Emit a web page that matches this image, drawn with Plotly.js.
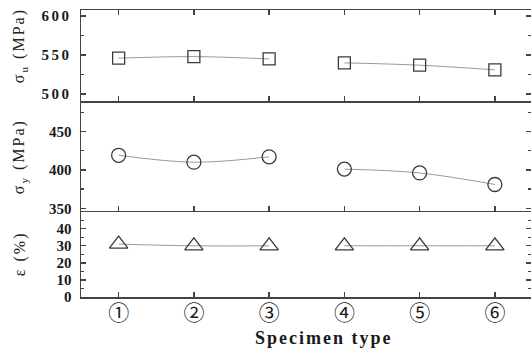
<!DOCTYPE html>
<html>
<head>
<meta charset="utf-8">
<script src="https://cdn.plot.ly/plotly-3.0.1.min.js"></script>
<style>
  html, body { margin: 0; padding: 0; background: #fff; overflow: hidden; }
  .ytick text { letter-spacing: 2.5px; font-weight: bold !important; }
  .annotation-text { letter-spacing: 2px; }
</style>
</head>
<body>
<div id="chart" style="width:531px;height:349px;"></div>
<script>
// ---- data ----
const categories = [1, 2, 3, 4, 5, 6];
const categoryLabels = ['①', '②', '③', '④', '⑤', '⑥'];
const sigmaU = [546, 548, 545, 540, 537, 531];      // ultimate strength, MPa
const sigmaY = [419, 410, 417, 401, 396, 381];      // yield strength, MPa
const elongation = [31, 30, 30, 30, 30, 30];        // elongation, %
const groupA = [0, 1, 2];   // specimens 1-3 joined by a curve
const groupB = [3, 4, 5];   // specimens 4-6 joined by a curve

const pick = (arr, idx) => idx.map(i => arr[i]);

const lineColor = '#9a9a9a';
const markColor = '#3a3a3a';
const axisColor = '#444';
const serif = 'Liberation Serif, Times New Roman, serif';

function panel(values, symbol, size, xa, ya) {
  const traces = [];
  [groupA, groupB].forEach(g => {
    traces.push({
      x: pick(categories, g), y: pick(values, g),
      xaxis: xa, yaxis: ya, type: 'scatter', mode: 'lines',
      line: {color: lineColor, width: 1, shape: 'spline', smoothing: 1},
      hoverinfo: 'skip', showlegend: false
    });
  });
  traces.push({
    x: categories, y: values, xaxis: xa, yaxis: ya,
    type: 'scatter', mode: 'markers', showlegend: false,
    marker: {symbol: symbol, size: size, color: markColor, line: {color: markColor, width: 1.3}}
  });
  return traces;
}

const data = [
  ...panel(sigmaU, 'square-open', 12, 'x', 'y'),
  ...panel(sigmaY, 'circle-open', 14, 'x2', 'y2'),
  ...panel(elongation, 'triangle-up-open', 16, 'x3', 'y3')
];

const xBase = {
  range: [0.5, 6.48], tickmode: 'array', tickvals: categories,
  ticks: 'inside', ticklen: 5, tickwidth: 1.3, tickcolor: axisColor,
  showline: true, linecolor: axisColor, linewidth: 1.5,
  showgrid: false, zeroline: false, fixedrange: true
};
const yBase = {
  ticks: 'inside', ticklen: 5, tickwidth: 1.3, tickcolor: axisColor,
  showline: true, linecolor: axisColor, linewidth: 1.5, mirror: 'ticks',
  showgrid: false, zeroline: false, fixedrange: true,
  tickfont: {family: serif, size: 15, color: '#1a1a1a', weight: 'bold'},
  ticklabelstandoff: 5,
  minor: {ticks: 'inside', ticklen: 3, tickwidth: 1.2, tickcolor: axisColor}
};

const layout = {
  width: 531, height: 349,
  margin: {l: 81, r: 0, t: 10, b: 52},
  paper_bgcolor: '#fff', plot_bgcolor: '#fff',
  showlegend: false,
  xaxis: Object.assign({}, xBase, {anchor: 'y', mirror: 'ticks', showticklabels: false}),
  xaxis2: Object.assign({}, xBase, {anchor: 'y2', mirror: false, showticklabels: false}),
  xaxis3: Object.assign({}, xBase, {anchor: 'y3', mirror: false, showticklabels: true,
    ticktext: categoryLabels,
    tickfont: {family: 'Noto Sans CJK JP, DejaVu Sans, sans-serif', size: 21, color: '#1a1a1a'},
    ticklabelstandoff: -4}),
  yaxis: Object.assign({}, yBase, {anchor: 'x', domain: [0.6812, 1], range: [490.5, 607.7],
    tickvals: [500, 550, 600], minor: Object.assign({}, yBase.minor, {tickvals: [525, 575]})}),
  yaxis2: Object.assign({}, yBase, {anchor: 'x2', domain: [0.2997, 0.6812], range: [346.5, 489],
    tickvals: [350, 400, 450], minor: Object.assign({}, yBase.minor, {tickvals: [375, 425, 475]})}),
  yaxis3: Object.assign({}, yBase, {anchor: 'x3', domain: [0, 0.2997], range: [0, 50.4],
    tickvals: [0, 10, 20, 30, 40], minor: Object.assign({}, yBase.minor, {tickvals: [5, 15, 25, 35, 45]})}),
  annotations: [
    {text: 'σ<sub>u</sub> (MPa)', xref: 'paper', yref: 'paper', x: -0.135, y: 0.875,
     textangle: -90, showarrow: false, xanchor: 'center', yanchor: 'middle',
     font: {family: serif, size: 16, color: '#222'}},
    {text: 'σ<sub>y</sub> (MPa)', xref: 'paper', yref: 'paper', x: -0.135, y: 0.488,
     textangle: -90, showarrow: false, xanchor: 'center', yanchor: 'middle',
     font: {family: serif, size: 16, color: '#222'}},
    {text: 'ε (%)', xref: 'paper', yref: 'paper', x: -0.135, y: 0.15,
     textangle: -90, showarrow: false, xanchor: 'center', yanchor: 'middle',
     font: {family: serif, size: 16, color: '#222'}},
    {text: 'Specimen type', xref: 'paper', yref: 'paper', x: 0.54, y: -0.142,
     showarrow: false, xanchor: 'center', yanchor: 'middle',
     font: {family: serif, size: 18, color: '#1a1a1a', weight: 'bold'}}
  ]
};

Plotly.newPlot('chart', data, layout, {displayModeBar: false, staticPlot: true});
</script>
</body>
</html>
